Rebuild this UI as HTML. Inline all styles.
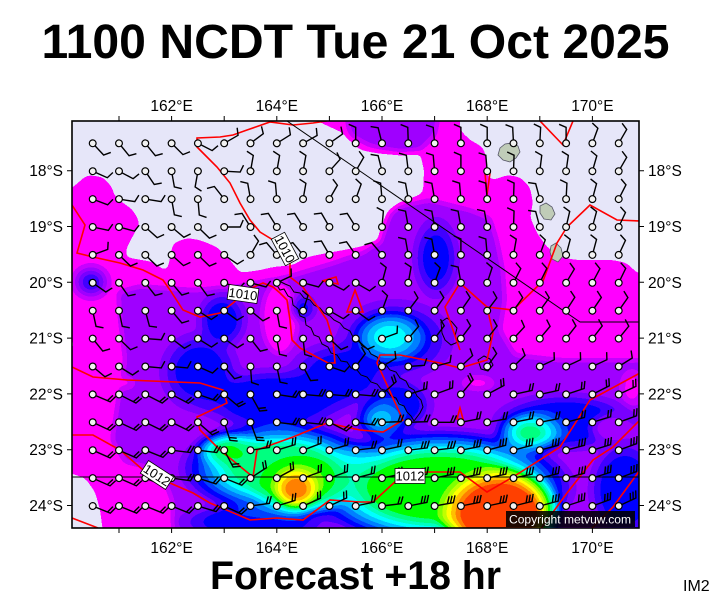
<!DOCTYPE html>
<html><head><meta charset="utf-8"><style>html,body{margin:0;padding:0;background:#fff}svg{display:block}</style></head>
<body>
<svg width="711" height="600" viewBox="0 0 711 600" xmlns="http://www.w3.org/2000/svg" font-family="'Liberation Sans', Arial, sans-serif">
<defs>
<filter id="q" filterUnits="userSpaceOnUse" x="0" y="0" width="711" height="600" color-interpolation-filters="sRGB">
<feGaussianBlur stdDeviation="3.5"/>
<feComponentTransfer>
<feFuncR type="discrete" tableValues="0.902 1 0.784 0.627 0.471 0.251 0 0 0 0 0 0 0 0 0.502 0.753 1 1 1 1"/>
<feFuncG type="discrete" tableValues="0.902 0 0 0 0 0 0 0.251 0.502 0.753 1 1 1 1 1 1 1 0.753 0.502 0.251"/>
<feFuncB type="discrete" tableValues="0.98 1 1 1 1 1 1 1 1 1 1 0.753 0.502 0 0 0 0 0 0 0"/>
</feComponentTransfer>
</filter>
<clipPath id="fr"><rect x="72" y="121" width="567" height="407"/></clipPath>
<radialGradient id="gA"><stop offset=".1" stop-color="rgb(87,87,87)"/><stop offset="1" stop-color="rgb(87,87,87)" stop-opacity="0"/></radialGradient>
<radialGradient id="gB"><stop offset=".2" stop-color="rgb(87,87,87)"/><stop offset="1" stop-color="rgb(87,87,87)" stop-opacity="0"/></radialGradient>
<radialGradient id="gB2"><stop offset=".35" stop-color="rgb(87,87,87)"/><stop offset="1" stop-color="rgb(87,87,87)" stop-opacity="0"/></radialGradient>
<radialGradient id="gC"><stop offset=".4" stop-color="rgb(87,87,87)"/><stop offset="1" stop-color="rgb(87,87,87)" stop-opacity="0"/></radialGradient>
<radialGradient id="gD"><stop offset=".5" stop-color="rgb(87,87,87)"/><stop offset="1" stop-color="rgb(87,87,87)" stop-opacity="0"/></radialGradient>
<radialGradient id="gE"><stop offset=".25" stop-color="rgb(139,139,139)"/><stop offset="1" stop-color="rgb(139,139,139)" stop-opacity="0"/></radialGradient>
<radialGradient id="gF"><stop offset=".2" stop-color="rgb(125,125,125)"/><stop offset="1" stop-color="rgb(125,125,125)" stop-opacity="0"/></radialGradient>
<radialGradient id="gG"><stop offset=".2" stop-color="rgb(163,163,163)"/><stop offset="1" stop-color="rgb(163,163,163)" stop-opacity="0"/></radialGradient>
<radialGradient id="gH"><stop offset=".5" stop-color="rgb(44,44,44)"/><stop offset="1" stop-color="rgb(44,44,44)" stop-opacity="0"/></radialGradient>
<radialGradient id="gI"><stop offset=".4" stop-color="rgb(19,19,19)"/><stop offset="1" stop-color="rgb(19,19,19)" stop-opacity="0"/></radialGradient>
<radialGradient id="gJ"><stop offset=".45" stop-color="rgb(157,157,157)"/><stop offset="1" stop-color="rgb(157,157,157)" stop-opacity="0"/></radialGradient>
<radialGradient id="gK"><stop offset=".2" stop-color="rgb(172,172,172)"/><stop offset="1" stop-color="rgb(172,172,172)" stop-opacity="0"/></radialGradient>
<radialGradient id="gL"><stop offset=".3" stop-color="rgb(185,185,185)"/><stop offset="1" stop-color="rgb(185,185,185)" stop-opacity="0"/></radialGradient>
<radialGradient id="gM"><stop offset=".3" stop-color="rgb(241,241,241)"/><stop offset="1" stop-color="rgb(241,241,241)" stop-opacity="0"/></radialGradient>
<radialGradient id="gN"><stop offset=".5" stop-color="rgb(171,171,171)"/><stop offset="1" stop-color="rgb(171,171,171)" stop-opacity="0"/></radialGradient>
<radialGradient id="gO"><stop offset=".55" stop-color="rgb(255,255,255)"/><stop offset="1" stop-color="rgb(255,255,255)" stop-opacity="0"/></radialGradient>
<g id="a1"><path d="M0 0H16l3-7" fill="none" stroke="#000" stroke-width="1.4"/><circle r="3.4" fill="#f2f2f2" stroke="#000" stroke-width="1.2"/></g>
<g id="c2"><path d="M0 0H19l3-7M16 0l3-7" fill="none" stroke="#000" stroke-width="1.4"/><circle r="3.4" fill="#f2f2f2" stroke="#000" stroke-width="1.2"/></g>
<g id="c3"><path d="M0 0H19l3-7M16 0l3-7M13 0l3-7" fill="none" stroke="#000" stroke-width="1.4"/><circle r="3.4" fill="#f2f2f2" stroke="#000" stroke-width="1.2"/></g>
</defs>

<rect width="711" height="600" fill="#fff"/>

<g clip-path="url(#fr)">
<g filter="url(#q)">
<rect x="50" y="100" width="610" height="450" fill="rgb(19,19,19)"/>
<polygon fill="rgb(44,44,44)" points="345,110 440,110 435,135 420,150 400,152 370,146 350,135"/>
<polygon fill="rgb(44,44,44)" points="382,235 392,207 430,200 470,210 490,218 497,240 503,270 505,300 500,330 515,355 560,360 650,360 650,545 175,545 172,500 160,470 125,462 112,440 118,400 125,360 120,320 118,292 140,286 165,288 195,290 240,286 290,276 330,264 365,252"/>
<ellipse cx="280" cy="318" rx="18" ry="36" fill="rgb(19,19,19)"/>
<polygon fill="rgb(6,6,6)" points="60,110 317,110 317,121 343,133 360,150 380,153 420,153 424,170 423,193 403,203 390,213 383,230 380,243 360,247 327,253 307,257 293,265 273,267 260,270 240,273 230,260 217,247 200,240 187,238 173,243 167,272 153,262 125,257 127,247 140,223 133,210 115,197 112,187 103,177 87,175 73,187 60,195"/>
<polygon fill="rgb(6,6,6)" points="460,110 650,110 650,275 637,273 627,263 613,260 593,260 577,260 560,257 547,247 537,233 530,217 533,203 530,187 520,177 507,175 493,180 487,177 487,160 483,147 470,140 460,130"/>
<polygon fill="rgb(6,6,6)" points="60,470 85,478 95,492 100,510 104,540 60,540"/>
<polygon fill="rgb(6,6,6)" points="60,337 73,339 74,349 60,351"/>
<ellipse cx="255" cy="522" rx="85" ry="22" fill="url(#gD)"/>
<ellipse cx="200" cy="372" rx="45" ry="45" fill="url(#gC)"/>
<ellipse cx="222" cy="320" rx="28" ry="32" fill="url(#gC)"/>
<ellipse cx="91" cy="282" rx="22" ry="20" fill="url(#gA)"/>
<ellipse cx="436" cy="258" rx="26" ry="46" fill="url(#gB2)"/>
<ellipse cx="303" cy="308" rx="16" ry="16" fill="url(#gB)"/>
<ellipse cx="340" cy="375" rx="58" ry="38" fill="url(#gC)"/>
<ellipse cx="275" cy="400" rx="85" ry="35" fill="url(#gD)"/>
<ellipse cx="395" cy="340" rx="65" ry="45" fill="url(#gC)"/>
<ellipse cx="398" cy="405" rx="40" ry="32" fill="url(#gC)"/>
<ellipse cx="565" cy="422" rx="80" ry="32" fill="url(#gD)"/>
<ellipse cx="625" cy="490" rx="40" ry="55" fill="url(#gD)"/>
<ellipse cx="612" cy="428" rx="28" ry="18" fill="url(#gH)"/>
<ellipse cx="632" cy="388" rx="14" ry="22" fill="url(#gI)"/>
<ellipse cx="478" cy="383" rx="20" ry="8" fill="url(#gI)"/>
<ellipse cx="125" cy="383" rx="12" ry="7" fill="url(#gI)"/>
<ellipse cx="390" cy="337" rx="40" ry="28" fill="url(#gE)"/>
<ellipse cx="380" cy="420" rx="30" ry="24" fill="url(#gF)"/>
<ellipse cx="530" cy="433" rx="38" ry="24" fill="url(#gG)"/>
<ellipse cx="280" cy="468" rx="105" ry="50" fill="url(#gJ)"/>
<ellipse cx="228" cy="450" rx="35" ry="20" fill="url(#gK)"/>
<ellipse cx="440" cy="488" rx="140" ry="62" fill="url(#gN)"/>
<ellipse cx="300" cy="484" rx="52" ry="36" fill="url(#gL)"/>
<ellipse cx="296" cy="489" rx="26" ry="24" fill="url(#gM)"/>
<ellipse cx="500" cy="514" rx="65" ry="50" fill="url(#gO)"/>
</g>

<g fill="#c0ccb8" stroke="#556" stroke-width=".8">
<polygon points="500,148 505,144 512,143 518,146 520,152 516,158 510,162 503,160 498,155"/>
<polygon points="540,206 546,203 552,207 555,214 551,220 544,219 540,213"/>
<polygon points="551,246 556,243 561,248 563,256 558,262 552,259 550,252"/>
</g>
<g fill="none" stroke="#000" stroke-width="1">
<polyline points="276,284 280,290 284,289 288,296 292,298 293,305 298,309 300,316 305,318 306,325 311,328 314,335 319,337 322,344 328,347 331,353 337,355 341,361 347,362 351,368 357,370 361,375 367,377 371,382 377,384 381,389 387,391 391,396 396,398 399,404 404,406 407,412 411,416 414,421"/>
<polyline points="279,281 285,284 290,286 294,292 300,293 304,298 310,300 314,305 320,308 324,313 330,316 334,320 340,323 344,328 350,331 353,337 359,340 362,346 368,349 371,354 377,357 380,362 386,365 390,370 396,372 400,378 406,381 409,387 414,390 417,396 421,400 423,407 420,413 414,421"/>
<polygon points="441,322 447,318 452,322 457,328 455,336 458,342 451,345 445,340 442,333"/>
<polygon points="478,360 484,356 490,359 493,365 488,371 481,369"/>
</g>

<g fill="none" stroke="#f00" stroke-width="1.6">
<polyline points="327,121 313,123 293,125 270,122 247,130 233,135 220,137 197,138 197,147 203,153 217,167 230,183 240,203 250,220 260,232 273,240 283,250 290,262 290,277 303,287 307,293 318,307 327,320 333,340 335,363 328,363 313,355 300,348 292,340 290,320 287,300 280,293 273,287 263,283 247,290 233,303 220,313 200,317 183,310 170,290 163,280 143,270 120,263 93,257 77,253 85,225 72,205"/>
<polyline points="72,367 93,377 127,380 200,383 223,390 227,403 197,417 200,430 220,450 253,477 257,450 293,437 327,423 360,430 383,432 403,420 377,363 380,355 400,355 440,363 460,368 487,360 493,333 487,307 513,310 543,281 557,243 567,227 590,205 617,220 640,221"/>
<polyline points="460,350 445,307 460,283 487,307"/>
<polyline points="72,435 93,435 120,450 143,470 170,483 193,493 210,503 250,520 277,518 303,520 330,500 360,502 373,502 397,480 427,472 460,472 487,492 513,477 560,447 590,400 640,373"/>
<polyline points="540,530 567,493 593,460 613,447 640,420"/>
<polyline points="590,530 613,507 640,470"/>
<polyline points="72,518 98,528"/>
<polyline points="540,121 563,145 573,121"/>
<polygon points="347,312 355,290 363,312"/>
<polygon points="322,281 336,277 338,284"/>
<polygon points="457,419 460,408 463,419"/>
<polyline points="485,173 487,195 490,173"/>
</g>
<g fill="none" stroke="#000" stroke-width="1">
<polyline points="287,121 580,322 640,322"/>
<line x1="72" y1="477" x2="639" y2="477"/>
</g>

<g>
<g transform="translate(0 143.3)">
<use href="#a1" transform="translate(92.7)rotate(47)"/><use href="#a1" transform="translate(119)rotate(51)"/><use href="#a1" transform="translate(145.3)rotate(51)"/><use href="#a1" transform="translate(171.6)rotate(45)"/><use href="#a1" transform="translate(197.9)rotate(27)"/><use href="#a1" transform="translate(224.2)rotate(-30)"/><use href="#a1" transform="translate(250.5)rotate(-37)"/><use href="#a1" transform="translate(276.8)rotate(-32)"/><use href="#a1" transform="translate(303.1)rotate(-29)"/><use href="#a1" transform="translate(329.4)rotate(-35)"/><use href="#a1" transform="translate(355.7)rotate(-90)"/><use href="#a1" transform="translate(382)rotate(-104)"/><use href="#a1" transform="translate(408.3)rotate(-92)"/><use href="#a1" transform="translate(434.6)rotate(-95)"/><use href="#a1" transform="translate(460.9)rotate(-90)"/><use href="#a1" transform="translate(487.2)rotate(-90)"/><use href="#a1" transform="translate(513.5)rotate(-93)"/><use href="#a1" transform="translate(539.8)rotate(-87)"/><use href="#a1" transform="translate(566.1)rotate(-90)"/><use href="#a1" transform="translate(592.4)rotate(-70)"/><use href="#a1" transform="translate(618.7)rotate(-60)"/>
</g>
<g transform="translate(0 171.2)">
<use href="#a1" transform="translate(92.7)rotate(24)"/><use href="#a1" transform="translate(119)rotate(28)"/><use href="#a1" transform="translate(145.3)rotate(56)"/><use href="#a1" transform="translate(171.6)rotate(80)"/><use href="#a1" transform="translate(197.9)rotate(100)"/><use href="#a1" transform="translate(224.2)rotate(3)"/><use href="#a1" transform="translate(250.5)rotate(-80)"/><use href="#a1" transform="translate(276.8)rotate(-80)"/><use href="#a1" transform="translate(303.1)rotate(-80)"/><use href="#a1" transform="translate(329.4)rotate(-48)"/><use href="#a1" transform="translate(355.7)rotate(-60)"/><use href="#a1" transform="translate(382)rotate(-104)"/><use href="#a1" transform="translate(408.3)rotate(-97)"/><use href="#a1" transform="translate(434.6)rotate(-95)"/><use href="#a1" transform="translate(460.9)rotate(-90)"/><use href="#a1" transform="translate(487.2)rotate(-95)"/><use href="#a1" transform="translate(513.5)rotate(-88)"/><use href="#a1" transform="translate(539.8)rotate(-83)"/><use href="#a1" transform="translate(566.1)rotate(-82)"/><use href="#a1" transform="translate(592.4)rotate(-74)"/><use href="#a1" transform="translate(618.7)rotate(-60)"/>
</g>
<g transform="translate(0 199.1)">
<use href="#a1" transform="translate(92.7)rotate(21)"/><use href="#a1" transform="translate(119)rotate(9)"/><use href="#a1" transform="translate(145.3)rotate(9)"/><use href="#a1" transform="translate(171.6)rotate(80)"/><use href="#a1" transform="translate(197.9)rotate(85)"/><use href="#a1" transform="translate(224.2)rotate(-128)"/><use href="#a1" transform="translate(250.5)rotate(-100)"/><use href="#a1" transform="translate(276.8)rotate(-95)"/><use href="#a1" transform="translate(303.1)rotate(-80)"/><use href="#a1" transform="translate(329.4)rotate(-60)"/><use href="#a1" transform="translate(355.7)rotate(-70)"/><use href="#a1" transform="translate(382)rotate(-95)"/><use href="#a1" transform="translate(408.3)rotate(-100)"/><use href="#a1" transform="translate(434.6)rotate(-100)"/><use href="#a1" transform="translate(460.9)rotate(-95)"/><use href="#a1" transform="translate(487.2)rotate(-95)"/><use href="#a1" transform="translate(513.5)rotate(-88)"/><use href="#a1" transform="translate(539.8)rotate(-105)"/><use href="#a1" transform="translate(566.1)rotate(-87)"/><use href="#a1" transform="translate(592.4)rotate(-75)"/><use href="#a1" transform="translate(618.7)rotate(-63)"/>
</g>
<g transform="translate(0 227)">
<use href="#a1" transform="translate(92.7)rotate(12)"/><use href="#a1" transform="translate(119)rotate(15)"/><use href="#a1" transform="translate(145.3)rotate(42)"/><use href="#a1" transform="translate(171.6)rotate(40)"/><use href="#a1" transform="translate(197.9)rotate(44)"/><use href="#a1" transform="translate(224.2)rotate(0)"/><use href="#a1" transform="translate(250.5)rotate(-122)"/><use href="#a1" transform="translate(276.8)rotate(-122)"/><use href="#a1" transform="translate(303.1)rotate(-122)"/><use href="#a1" transform="translate(329.4)rotate(-120)"/><use href="#a1" transform="translate(355.7)rotate(-122)"/><use href="#a1" transform="translate(382)rotate(-85)"/><use href="#a1" transform="translate(408.3)rotate(-100)"/><use href="#a1" transform="translate(434.6)rotate(-100)"/><use href="#a1" transform="translate(460.9)rotate(-100)"/><use href="#a1" transform="translate(487.2)rotate(-100)"/><use href="#a1" transform="translate(513.5)rotate(-88)"/><use href="#a1" transform="translate(539.8)rotate(-105)"/><use href="#a1" transform="translate(566.1)rotate(-77)"/><use href="#a1" transform="translate(592.4)rotate(-75)"/><use href="#a1" transform="translate(618.7)rotate(-65)"/>
</g>
<g transform="translate(0 254.9)">
<use href="#a1" transform="translate(92.7)rotate(-20)"/><use href="#a1" transform="translate(119)rotate(44)"/><use href="#a1" transform="translate(145.3)rotate(44)"/><use href="#a1" transform="translate(171.6)rotate(42)"/><use href="#a1" transform="translate(197.9)rotate(44)"/><use href="#a1" transform="translate(224.2)rotate(35)"/><use href="#a1" transform="translate(250.5)rotate(-60)"/><use href="#a1" transform="translate(276.8)rotate(-130)"/><use href="#a1" transform="translate(303.1)rotate(-130)"/><use href="#a1" transform="translate(329.4)rotate(-120)"/><use href="#a1" transform="translate(355.7)rotate(-125)"/><use href="#a1" transform="translate(382)rotate(-130)"/><use href="#a1" transform="translate(408.3)rotate(-100)"/><use href="#a1" transform="translate(434.6)rotate(-100)"/><use href="#a1" transform="translate(460.9)rotate(-90)"/><use href="#a1" transform="translate(487.2)rotate(-95)"/><use href="#a1" transform="translate(513.5)rotate(-80)"/><use href="#a1" transform="translate(539.8)rotate(-70)"/><use href="#a1" transform="translate(566.1)rotate(-75)"/><use href="#a1" transform="translate(592.4)rotate(-75)"/><use href="#a1" transform="translate(618.7)rotate(-65)"/>
</g>
<g transform="translate(0 282.8)">
<use href="#a1" transform="translate(92.7)rotate(35)"/><use href="#a1" transform="translate(119)rotate(55)"/><use href="#a1" transform="translate(145.3)rotate(52)"/><use href="#a1" transform="translate(171.6)rotate(50)"/><use href="#a1" transform="translate(197.9)rotate(54)"/><use href="#a1" transform="translate(224.2)rotate(20)"/><use href="#a1" transform="translate(250.5)rotate(15)"/><use href="#a1" transform="translate(276.8)rotate(-25)"/><use href="#a1" transform="translate(303.1)rotate(15)"/><use href="#a1" transform="translate(329.4)rotate(27)"/><use href="#a1" transform="translate(355.7)rotate(30)"/><use href="#a1" transform="translate(382)rotate(-75)"/><use href="#a1" transform="translate(408.3)rotate(-80)"/><use href="#a1" transform="translate(434.6)rotate(-70)"/><use href="#a1" transform="translate(460.9)rotate(-100)"/><use href="#a1" transform="translate(487.2)rotate(-72)"/><use href="#a1" transform="translate(513.5)rotate(-63)"/><use href="#a1" transform="translate(539.8)rotate(-64)"/><use href="#a1" transform="translate(566.1)rotate(-59)"/><use href="#a1" transform="translate(592.4)rotate(-62)"/><use href="#a1" transform="translate(618.7)rotate(-64)"/>
</g>
<g transform="translate(0 310.7)">
<use href="#a1" transform="translate(92.7)rotate(78)"/><use href="#a1" transform="translate(119)rotate(78)"/><use href="#a1" transform="translate(145.3)rotate(75)"/><use href="#a1" transform="translate(171.6)rotate(50)"/><use href="#a1" transform="translate(197.9)rotate(33)"/><use href="#a1" transform="translate(224.2)rotate(36)"/><use href="#a1" transform="translate(250.5)rotate(39)"/><use href="#a1" transform="translate(276.8)rotate(80)"/><use href="#a1" transform="translate(303.1)rotate(-72)"/><use href="#a1" transform="translate(329.4)rotate(30)"/><use href="#a1" transform="translate(355.7)rotate(36)"/><use href="#a1" transform="translate(382)rotate(-70)"/><use href="#a1" transform="translate(408.3)rotate(-53)"/><use href="#a1" transform="translate(434.6)rotate(-55)"/><use href="#a1" transform="translate(460.9)rotate(-55)"/><use href="#a1" transform="translate(487.2)rotate(-53)"/><use href="#a1" transform="translate(513.5)rotate(-55)"/><use href="#a1" transform="translate(539.8)rotate(-54)"/><use href="#a1" transform="translate(566.1)rotate(-57)"/><use href="#a1" transform="translate(592.4)rotate(-56)"/><use href="#a1" transform="translate(618.7)rotate(-55)"/>
</g>
<g transform="translate(0 338.6)">
<use href="#a1" transform="translate(92.7)rotate(51)"/><use href="#a1" transform="translate(119)rotate(44)"/><use href="#a1" transform="translate(145.3)rotate(4)"/><use href="#a1" transform="translate(171.6)rotate(37)"/><use href="#a1" transform="translate(197.9)rotate(32)"/><use href="#a1" transform="translate(224.2)rotate(35)"/><use href="#a1" transform="translate(250.5)rotate(52)"/><use href="#a1" transform="translate(276.8)rotate(80)"/><use href="#a1" transform="translate(303.1)rotate(84)"/><use href="#a1" transform="translate(329.4)rotate(43)"/><use href="#a1" transform="translate(355.7)rotate(42)"/><use href="#a1" transform="translate(382)rotate(-20)"/><use href="#a1" transform="translate(408.3)rotate(-50)"/><use href="#a1" transform="translate(434.6)rotate(-53)"/><use href="#a1" transform="translate(460.9)rotate(-53)"/><use href="#a1" transform="translate(487.2)rotate(-52)"/><use href="#a1" transform="translate(513.5)rotate(-47)"/><use href="#a1" transform="translate(539.8)rotate(-50)"/><use href="#a1" transform="translate(566.1)rotate(-52)"/><use href="#a1" transform="translate(592.4)rotate(-52)"/><use href="#a1" transform="translate(618.7)rotate(-51)"/>
</g>
<g transform="translate(0 366.5)">
<use href="#a1" transform="translate(92.7)rotate(40)"/><use href="#a1" transform="translate(119)rotate(32)"/><use href="#a1" transform="translate(145.3)rotate(5)"/><use href="#a1" transform="translate(171.6)rotate(5)"/><use href="#a1" transform="translate(197.9)rotate(24)"/><use href="#a1" transform="translate(224.2)rotate(50)"/><use href="#a1" transform="translate(250.5)rotate(86)"/><use href="#a1" transform="translate(276.8)rotate(78)"/><use href="#a1" transform="translate(303.1)rotate(62)"/><use href="#a1" transform="translate(329.4)rotate(19)"/><use href="#a1" transform="translate(355.7)rotate(-53)"/><use href="#a1" transform="translate(382)rotate(-30)"/><use href="#a1" transform="translate(408.3)rotate(-4)"/><use href="#a1" transform="translate(434.6)rotate(-15)"/><use href="#a1" transform="translate(460.9)rotate(-43)"/><use href="#a1" transform="translate(487.2)rotate(-54)"/><use href="#a1" transform="translate(513.5)rotate(-44)"/><use href="#a1" transform="translate(539.8)rotate(-25)"/><use href="#a1" transform="translate(566.1)rotate(-25)"/><use href="#a1" transform="translate(592.4)rotate(-25)"/><use href="#a1" transform="translate(618.7)rotate(-32)"/>
</g>
<g transform="translate(0 394.4)">
<use href="#c2" transform="translate(92.7)rotate(23)"/><use href="#c2" transform="translate(119)rotate(27)"/><use href="#c2" transform="translate(145.3)rotate(27)"/><use href="#c2" transform="translate(171.6)rotate(28)"/><use href="#c2" transform="translate(197.9)rotate(19)"/><use href="#c2" transform="translate(224.2)rotate(40)"/><use href="#c2" transform="translate(250.5)rotate(61)"/><use href="#c2" transform="translate(276.8)rotate(9)"/><use href="#c2" transform="translate(303.1)rotate(5)"/><use href="#c2" transform="translate(329.4)rotate(5)"/><use href="#c2" transform="translate(355.7)rotate(5)"/><use href="#c2" transform="translate(382)rotate(-42)"/><use href="#c2" transform="translate(408.3)rotate(-17)"/><use href="#c2" transform="translate(434.6)rotate(-20)"/><use href="#c2" transform="translate(460.9)rotate(-50)"/><use href="#c2" transform="translate(487.2)rotate(-28)"/><use href="#c2" transform="translate(513.5)rotate(-12)"/><use href="#c2" transform="translate(539.8)rotate(-12)"/><use href="#c2" transform="translate(566.1)rotate(-18)"/><use href="#c2" transform="translate(592.4)rotate(-27)"/><use href="#c2" transform="translate(618.7)rotate(-25)"/>
</g>
<g transform="translate(0 422.3)">
<use href="#c2" transform="translate(92.7)rotate(25)"/><use href="#c2" transform="translate(119)rotate(25)"/><use href="#c2" transform="translate(145.3)rotate(26)"/><use href="#c2" transform="translate(171.6)rotate(26)"/><use href="#c2" transform="translate(197.9)rotate(41)"/><use href="#c2" transform="translate(224.2)rotate(72)"/><use href="#c2" transform="translate(250.5)rotate(70)"/><use href="#c2" transform="translate(276.8)rotate(7)"/><use href="#c2" transform="translate(303.1)rotate(6)"/><use href="#c2" transform="translate(329.4)rotate(27)"/><use href="#c2" transform="translate(355.7)rotate(8)"/><use href="#c2" transform="translate(382)rotate(-2)"/><use href="#c2" transform="translate(408.3)rotate(-2)"/><use href="#c2" transform="translate(434.6)rotate(0)"/><use href="#c2" transform="translate(460.9)rotate(-11)"/><use href="#c2" transform="translate(487.2)rotate(-10)"/><use href="#c2" transform="translate(513.5)rotate(-11)"/><use href="#c2" transform="translate(539.8)rotate(-11)"/><use href="#c2" transform="translate(566.1)rotate(-15)"/><use href="#c2" transform="translate(592.4)rotate(-17)"/><use href="#c2" transform="translate(618.7)rotate(-20)"/>
</g>
<g transform="translate(0 450.2)">
<use href="#c2" transform="translate(92.7)rotate(24)"/><use href="#c2" transform="translate(119)rotate(24)"/><use href="#c2" transform="translate(145.3)rotate(22)"/><use href="#c2" transform="translate(171.6)rotate(7)"/><use href="#c2" transform="translate(197.9)rotate(7)"/><use href="#c2" transform="translate(224.2)rotate(62)"/><use href="#c2" transform="translate(250.5)rotate(-8)"/><use href="#c2" transform="translate(276.8)rotate(-17)"/><use href="#c2" transform="translate(303.1)rotate(-21)"/><use href="#c2" transform="translate(329.4)rotate(-16)"/><use href="#c2" transform="translate(355.7)rotate(-7)"/><use href="#c2" transform="translate(382)rotate(-12)"/><use href="#c3" transform="translate(408.3)rotate(-7)"/><use href="#c3" transform="translate(434.6)rotate(-7)"/><use href="#c3" transform="translate(460.9)rotate(-11)"/><use href="#c3" transform="translate(487.2)rotate(-15)"/><use href="#c3" transform="translate(513.5)rotate(-15)"/><use href="#c3" transform="translate(539.8)rotate(-15)"/><use href="#c3" transform="translate(566.1)rotate(-15)"/><use href="#c3" transform="translate(592.4)rotate(-17)"/><use href="#c3" transform="translate(618.7)rotate(-20)"/>
</g>
<g transform="translate(0 478.1)">
<use href="#c2" transform="translate(92.7)rotate(24)"/><use href="#c2" transform="translate(119)rotate(24)"/><use href="#c2" transform="translate(145.3)rotate(22)"/><use href="#c2" transform="translate(171.6)rotate(8)"/><use href="#c2" transform="translate(197.9)rotate(18)"/><use href="#c2" transform="translate(224.2)rotate(22)"/><use href="#c2" transform="translate(250.5)rotate(-33)"/><use href="#c2" transform="translate(276.8)rotate(-28)"/><use href="#c2" transform="translate(303.1)rotate(-20)"/><use href="#c2" transform="translate(329.4)rotate(-20)"/><use href="#c2" transform="translate(355.7)rotate(-15)"/><use href="#c2" transform="translate(382)rotate(-12)"/><use href="#c3" transform="translate(408.3)rotate(-12)"/><use href="#c3" transform="translate(434.6)rotate(-12)"/><use href="#c3" transform="translate(460.9)rotate(-12)"/><use href="#c3" transform="translate(487.2)rotate(-12)"/><use href="#c3" transform="translate(513.5)rotate(-12)"/><use href="#c3" transform="translate(539.8)rotate(-14)"/><use href="#c3" transform="translate(566.1)rotate(-15)"/><use href="#c3" transform="translate(592.4)rotate(-18)"/><use href="#c3" transform="translate(618.7)rotate(-20)"/>
</g>
<g transform="translate(0 506)">
<use href="#c2" transform="translate(92.7)rotate(22)"/><use href="#c2" transform="translate(119)rotate(22)"/><use href="#c2" transform="translate(145.3)rotate(22)"/><use href="#c2" transform="translate(171.6)rotate(22)"/><use href="#c2" transform="translate(197.9)rotate(17)"/><use href="#c2" transform="translate(224.2)rotate(25)"/><use href="#c2" transform="translate(250.5)rotate(-8)"/><use href="#c2" transform="translate(276.8)rotate(-17)"/><use href="#c2" transform="translate(303.1)rotate(-24)"/><use href="#c2" transform="translate(329.4)rotate(-25)"/><use href="#c2" transform="translate(355.7)rotate(-12)"/><use href="#c2" transform="translate(382)rotate(-7)"/><use href="#c3" transform="translate(408.3)rotate(-11)"/><use href="#c3" transform="translate(434.6)rotate(-10)"/><use href="#c3" transform="translate(460.9)rotate(-11)"/><use href="#c3" transform="translate(487.2)rotate(-12)"/><use href="#c3" transform="translate(513.5)rotate(-14)"/><use href="#c3" transform="translate(539.8)rotate(-15)"/><use href="#c3" transform="translate(566.1)rotate(-18)"/><use href="#c3" transform="translate(592.4)rotate(-20)"/><use href="#c3" transform="translate(618.7)rotate(-25)"/>
</g>
</g>

<g font-size="13" text-anchor="middle">
<g transform="translate(285 249) rotate(62)"><rect x="-15" y="-7.5" width="30" height="15" fill="#fff" stroke="#000" stroke-width=".8"/><text y="4.7">1010</text></g>
<g transform="translate(243 294) rotate(8)"><rect x="-15" y="-7.5" width="30" height="15" fill="#fff" stroke="#000" stroke-width=".8"/><text y="4.7">1010</text></g>
<g transform="translate(157 475) rotate(33)"><rect x="-15" y="-7.5" width="30" height="15" fill="#fff" stroke="#000" stroke-width=".8"/><text y="4.7">1012</text></g>
<g transform="translate(410 476)"><rect x="-15" y="-7.5" width="30" height="15" fill="#fff" stroke="#000" stroke-width=".8"/><text y="4.7">1012</text></g>
</g>

<rect x="506" y="511" width="129" height="16" fill="#000" fill-opacity=".88"/>
<text x="509" y="523.5" font-size="12" fill="#fff" textLength="122" lengthAdjust="spacingAndGlyphs">Copyright metvuw.com</text>
</g>

<rect x="72" y="121" width="567" height="407" fill="none" stroke="#000" stroke-width="1.6"/>

<g stroke="#000" stroke-width="1">
<path d="M119 121v-5M171.6 121v-5M224.2 121v-5M276.8 121v-5M329.4 121v-5M382 121v-5M434.6 121v-5M487.2 121v-5M539.8 121v-5M592.4 121v-5"/>
<path d="M119 528v5M171.6 528v5M224.2 528v5M276.8 528v5M329.4 528v5M382 528v5M434.6 528v5M487.2 528v5M539.8 528v5M592.4 528v5"/>
<path d="M72 170.7h-5M72 226.5h-5M72 282.3h-5M72 338.1h-5M72 393.9h-5M72 449.7h-5M72 505.5h-5"/>
<path d="M639 170.7h5M639 226.5h5M639 282.3h5M639 338.1h5M639 393.9h5M639 449.7h5M639 505.5h5"/>
</g>

<g font-size="15.5" fill="#000" text-anchor="middle">
<text x="171.6" y="111">162°E</text><text x="276.8" y="111">164°E</text><text x="382" y="111">166°E</text><text x="487.2" y="111">168°E</text><text x="592.4" y="111">170°E</text>
<text x="171.6" y="553">162°E</text><text x="276.8" y="553">164°E</text><text x="382" y="553">166°E</text><text x="487.2" y="553">168°E</text><text x="592.4" y="553">170°E</text>
</g>
<g font-size="15.5" fill="#000" text-anchor="end">
<text x="63" y="176">18°S</text><text x="63" y="232">19°S</text><text x="63" y="288">20°S</text><text x="63" y="343.5">21°S</text><text x="63" y="399.5">22°S</text><text x="63" y="455">23°S</text><text x="63" y="511">24°S</text>
</g>
<g font-size="15.5" fill="#000">
<text x="648" y="176">18°S</text><text x="648" y="232">19°S</text><text x="648" y="288">20°S</text><text x="648" y="343.5">21°S</text><text x="648" y="399.5">22°S</text><text x="648" y="455">23°S</text><text x="648" y="511">24°S</text>
</g>

<text x="355.5" y="58" text-anchor="middle" font-size="48" font-weight="bold" textLength="628" lengthAdjust="spacingAndGlyphs">1100 NCDT Tue 21 Oct 2025</text>
<text x="355.5" y="589" text-anchor="middle" font-size="40" font-weight="bold" textLength="291" lengthAdjust="spacingAndGlyphs">Forecast +18 hr</text>
<text x="683" y="591" font-size="16">IM2</text>
</svg>
</body></html>
